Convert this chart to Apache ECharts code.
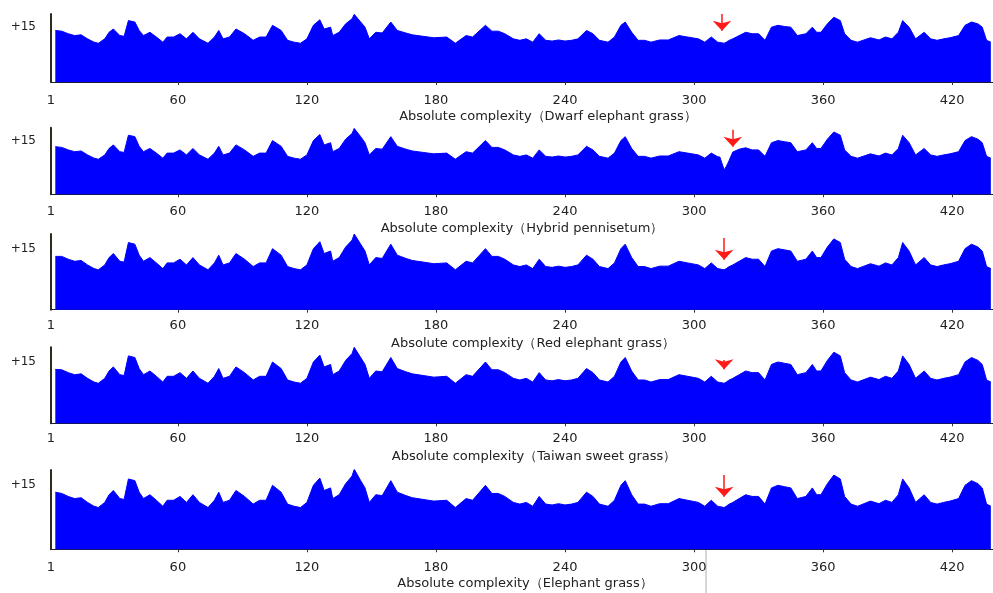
<!DOCTYPE html>
<html>
<head>
<meta charset="utf-8">
<script src="https://cdn.jsdelivr.net/npm/echarts@6/dist/echarts.min.js"></script>
<style>
html,body{margin:0;padding:0;background:#fff;}
#main{width:993px;height:593px;}
</style>
</head>
<body>
<div id="main"></div>
<script>
// residue positions read along the x axis (shared by all five profiles)
var residues = [
  3,6,9,12,15,18,21,23,26,28,
  30,33,35,37,40,42,44,47,50,53,
  55,58,61,64,67,70,74,77,79,81,
  84,87,91,95,98,101,104,108,111,114,
  117,120,123,126,128,131,132,135,138,141,
  142,145,147,149,152,155,159,162,166,169,
  174,179,185,189,194,197,203,206,209,212,
  216,219,222,225,228,231,234,237,240,243,
  246,250,253,256,260,263,266,268,271,274,
  277,280,284,288,293,297,302,305,308,311,
  312,314,315,316,318,321,324,327,330,333,
  336,339,342,345,348,352,355,357,359,362,
  365,368,370,373,376,379,382,386,389,392,
  395,397,400,403,407,410,413,416,419,423,
  426,429,432,434,436,438
];

var dwarfElephant = [
  14.1,13.9,13.2,12.7,12.9,11.8,10.9,10.6,11.8,13.6,
  14.5,12.7,12.5,16.8,16.4,14.1,12.7,13.6,12.3,10.9,
  12.3,12.3,13.2,11.8,13.6,11.8,10.6,12.3,14.1,11.8,
  12.3,14.5,13.2,11.4,12.3,12.3,15.5,14.1,11.4,10.9,
  10.6,11.8,15.5,17.0,14.5,15.0,12.7,13.6,15.9,17.3,
  18.5,16.4,15.0,11.8,13.6,13.4,16.4,14.1,13.4,12.9,
  12.5,12.1,12.3,10.6,12.7,12.3,15.5,13.9,13.9,13.2,
  11.8,11.4,11.8,10.9,13.2,11.4,11.2,11.5,11.2,11.4,
  11.8,14.1,13.2,11.4,10.9,12.3,15.5,16.4,13.6,11.4,
  11.4,10.9,11.5,11.5,12.7,12.3,11.8,10.9,12.3,10.9,
  10.8,10.6,10.9,11.3,11.8,12.7,13.6,13.2,13.2,11.4,
  15.0,15.5,15.2,15.0,12.7,13.2,15.0,13.6,13.6,15.9,
  17.7,16.8,13.2,11.4,10.9,11.5,12.1,11.5,12.3,11.8,
  13.6,16.8,15.0,11.8,13.6,11.8,11.4,11.8,12.1,12.7,
  15.5,16.4,15.9,15.0,11.4,10.9
];

var hybridPennisetum = [
  13.3,13.1,12.4,11.9,12.1,11.0,10.1,9.8,11.0,12.8,
  13.8,11.9,11.7,16.5,16.1,13.4,11.9,12.8,11.5,10.1,
  11.5,11.5,12.4,11.0,12.8,11.0,9.8,11.5,13.4,11.0,
  11.5,13.8,12.4,10.6,11.5,11.5,15.0,13.4,10.6,10.1,
  9.8,11.0,15.0,16.7,13.8,14.4,11.9,12.8,15.4,17.0,
  18.4,16.1,14.4,11.0,12.8,12.6,16.1,13.4,12.6,12.1,
  11.7,11.3,11.5,9.8,11.9,11.5,15.0,13.1,13.1,12.4,
  11.0,10.6,11.0,10.1,12.4,10.6,10.4,10.7,10.4,10.6,
  11.0,13.4,12.4,10.6,10.1,11.5,15.0,16.1,12.8,10.6,
  10.6,10.1,10.7,10.7,11.9,11.5,11.0,10.1,11.5,10.5,
  10.4,6.8,7.8,9.0,11.8,12.6,13.0,12.4,12.4,10.6,
  14.4,15.0,14.7,14.4,11.9,12.4,14.4,12.8,12.8,15.4,
  17.4,16.5,12.4,10.6,10.1,10.7,11.3,10.7,11.5,11.0,
  12.8,16.5,14.4,11.0,12.8,11.0,10.6,11.0,11.3,11.9,
  15.0,16.1,15.4,14.4,10.6,10.1
];

var redElephant = [
  13.1,13.1,12.4,11.9,12.1,11.0,10.1,9.8,11.0,12.8,
  13.8,11.9,11.7,16.5,16.1,13.4,11.9,12.8,11.5,10.1,
  11.5,11.5,12.4,11.0,12.8,11.0,9.8,11.5,13.4,11.0,
  11.5,13.8,12.4,10.6,11.5,11.5,15.0,13.4,10.6,10.1,
  9.8,11.0,15.0,16.7,13.8,14.4,11.9,12.8,15.4,17.1,
  18.6,16.1,14.4,11.0,12.8,12.6,16.1,13.4,12.6,12.1,
  11.7,11.3,11.5,9.8,11.9,11.5,15.0,13.1,13.1,12.4,
  11.0,10.6,11.0,10.1,12.4,10.6,10.4,10.7,10.4,10.6,
  11.0,13.4,12.4,10.6,10.1,11.5,15.0,16.1,12.8,10.6,
  10.6,10.1,10.7,10.7,11.9,11.5,11.0,10.1,11.5,10.1,
  10.0,9.8,10.1,10.5,11.0,11.9,12.8,12.4,12.4,10.6,
  14.4,15.0,14.7,14.4,11.9,12.4,14.4,12.8,12.8,15.4,
  17.4,16.5,12.4,10.6,10.1,10.7,11.3,10.7,11.5,11.0,
  12.8,16.5,14.4,11.0,12.8,11.0,10.6,11.0,11.3,11.9,
  15.0,16.1,15.4,14.4,10.6,10.1
];

var taiwanSweet = [
  13.2,13.1,12.4,11.9,12.1,11.0,10.1,9.8,11.0,12.8,
  13.8,11.9,11.7,16.5,16.1,13.4,11.9,12.8,11.5,10.1,
  11.5,11.5,12.4,11.0,12.8,11.0,9.8,11.5,13.4,11.0,
  11.5,13.8,12.4,10.6,11.5,11.5,15.0,13.4,10.6,10.1,
  9.8,11.0,15.0,16.7,13.8,14.4,11.9,12.8,15.4,17.1,
  18.6,16.1,14.4,11.0,12.8,12.6,16.1,13.4,12.6,12.1,
  11.7,11.3,11.5,9.8,11.9,11.5,15.0,13.1,13.1,12.4,
  11.0,10.6,11.0,10.1,12.4,10.6,10.4,10.7,10.4,10.6,
  11.0,13.4,12.4,10.6,10.1,11.5,15.0,16.1,12.8,10.6,
  10.6,10.1,10.7,10.7,11.9,11.5,11.0,10.1,11.5,10.1,
  10.0,9.8,10.1,10.5,11.0,11.9,12.8,12.4,12.4,10.6,
  14.4,15.0,14.7,14.4,11.9,12.4,14.4,12.8,12.8,15.4,
  17.4,16.5,12.4,10.6,10.1,10.7,11.3,10.7,11.5,11.0,
  12.8,16.5,14.4,11.0,12.8,11.0,10.6,11.0,11.3,11.9,
  15.0,16.1,15.4,14.4,10.6,10.1
];

var elephantGrass = [
  13.4,13.1,12.4,11.9,12.1,11.0,10.1,9.8,11.0,12.8,
  13.8,11.9,11.7,16.5,16.1,13.4,11.9,12.8,11.5,10.1,
  11.5,11.5,12.4,11.0,12.8,11.0,9.8,11.5,13.4,11.0,
  11.5,13.8,12.4,10.6,11.5,11.5,15.0,13.4,10.6,10.1,
  9.8,11.0,15.0,16.7,13.8,14.4,11.9,12.8,15.4,17.2,
  18.8,16.1,14.4,11.0,12.8,12.6,16.1,13.4,12.6,12.1,
  11.7,11.3,11.5,9.8,11.9,11.5,15.0,13.1,13.1,12.4,
  11.0,10.6,11.0,10.1,12.4,10.6,10.4,10.7,10.4,10.6,
  11.0,13.4,12.4,10.6,10.1,11.5,15.0,16.1,12.8,10.6,
  10.6,10.1,10.7,10.7,11.9,11.5,11.0,10.1,11.5,10.1,
  10.0,9.8,10.1,10.5,11.0,11.9,12.8,12.4,12.4,10.6,
  14.4,15.0,14.7,14.4,11.9,12.4,14.4,12.8,12.8,15.4,
  17.4,16.5,12.4,10.6,10.1,10.7,11.3,10.7,11.5,11.0,
  12.8,16.5,14.4,11.0,12.8,11.0,10.6,11.0,11.3,11.9,
  15.0,16.1,15.4,14.4,10.6,10.1
];

var profiles = [dwarfElephant, hybridPennisetum, redElephant, taiwanSweet, elephantGrass];
var panelNames = [
  'Absolute complexity（Dwarf elephant grass）',
  'Absolute complexity（Hybrid pennisetum）',
  'Absolute complexity（Red elephant grass）',
  'Absolute complexity（Taiwan sweet grass）',
  'Absolute complexity（Elephant grass）'
];
var xTickLabels = [1, 60, 120, 180, 240, 300, 360, 420];
var yTickLabels = [15];

// red arrows: residue, top of shaft, arrow tip (y units)
var arrowResidue = [313, 318, 314, 314, 314];
var arrowTop = [18.6, 18.0, 17.6, 15.5, 17.4];
var arrowTip = [14.0, 13.3, 12.3, 13.2, 12.3];

// layout of each panel in pixels
var panelTop = [14, 127.7, 234, 347.3, 470];
var panelBase = [82, 194.3, 309.7, 423.3, 549.3];
var labelMargin = [12, 11, 9, 9, 12];
var nameGap = [28, 28, 27, 27, 28];
var namePad = [52, 0, 22, 24, 6];

var myChart = echarts.init(document.getElementById('main'), null, {renderer: 'canvas'});

var grids = [], xAxes = [], yAxes = [], series = [];
for (var i = 0; i < profiles.length; i++) {
  grids.push({
    left: 51, right: 0,
    top: panelTop[i],
    height: panelBase[i] - panelTop[i],
    containLabel: false,
    outerBoundsMode: 'none'
  });
  xAxes.push({
    type: 'value', gridIndex: i,
    min: 1, max: 439,
    name: panelNames[i],
    nameLocation: 'middle',
    nameGap: nameGap[i],
    nameTextStyle: {
      color: '#222', fontSize: 13, fontFamily: 'DejaVu Sans',
      padding: [0, 0, 0, namePad[i]]
    },
    axisLine: {show: true, lineStyle: {color: '#1c1c3c', width: 1}},
    axisTick: {show: true, length: 3, customValues: xTickLabels.slice(1), lineStyle: {color: '#333'}},
    axisLabel: {
      customValues: xTickLabels,
      margin: labelMargin[i],
      color: '#222', fontSize: 13, fontFamily: 'DejaVu Sans'
    },
    splitLine: {show: false}
  });
  yAxes.push({
    type: 'value', gridIndex: i,
    min: 0, max: 18.6,
    axisLine: {show: true, lineStyle: {color: '#2b2b1f', width: 2}},
    axisTick: {show: false},
    axisLabel: {
      customValues: yTickLabels,
      formatter: function (v) { return '+' + v; },
      margin: 15,
      color: '#222', fontSize: 12, fontFamily: 'DejaVu Sans'
    },
    splitLine: {show: false}
  });
  var vals = profiles[i];
  series.push({
    type: 'line',
    xAxisIndex: i, yAxisIndex: i,
    data: residues.map(function (r, k) { return [r, vals[k]]; }),
    showSymbol: false,
    lineStyle: {color: '#0000ff', width: 1},
    areaStyle: {color: '#0000ff', opacity: 1},
    silent: true,
    markLine: {
      silent: true,
      symbol: ['none', 'arrow'],
      symbolSize: [14, 10],
      label: {show: false},
      lineStyle: {color: '#ff1a1a', width: 1.5, type: 'solid'},
      data: [[
        {coord: [arrowResidue[i], arrowTop[i]]},
        {coord: [arrowResidue[i], arrowTip[i]]}
      ]]
    }
  });
}

myChart.setOption({
  animation: false,
  backgroundColor: '#fff',
  grid: grids,
  xAxis: xAxes,
  yAxis: yAxes,
  series: series,
  graphic: [{
    type: 'line',
    shape: {x1: 706, y1: 549, x2: 706, y2: 593},
    style: {stroke: '#c8c8c8', lineWidth: 1.5},
    silent: true
  }]
});
</script>
</body>
</html>
